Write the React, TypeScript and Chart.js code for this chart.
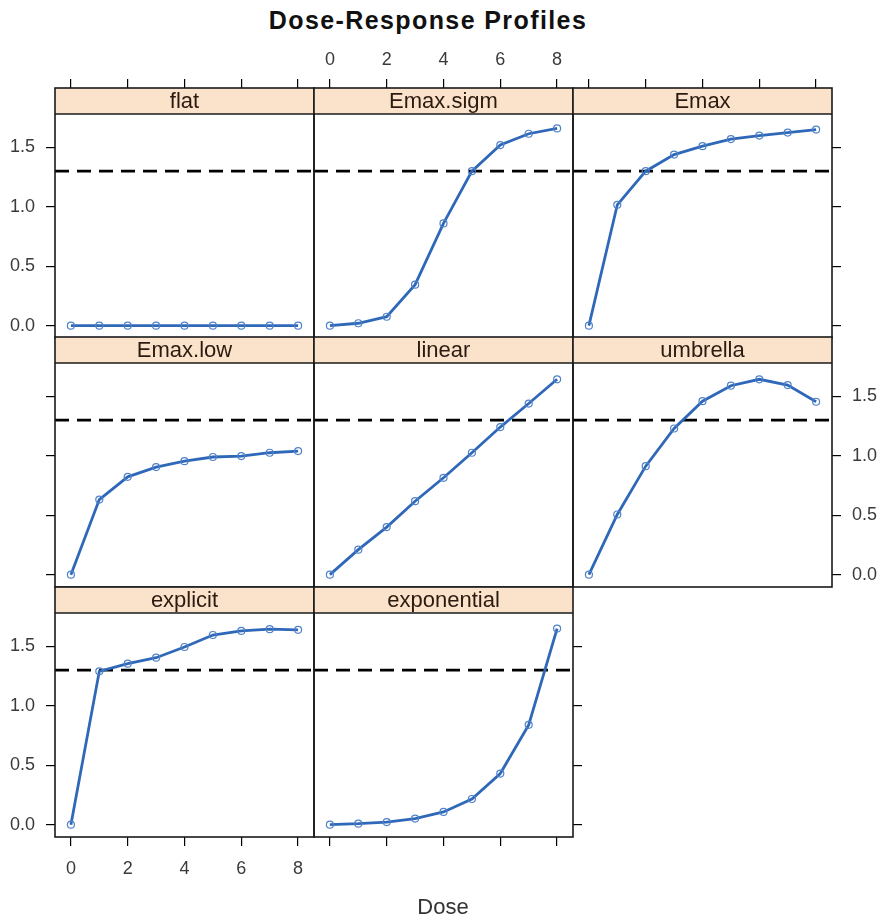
import React, { useEffect, useRef } from "react";
import { Chart, registerables } from "chart.js";

Chart.register(...registerables);

// ---------- data ----------
const DOSES = [0, 1, 2, 3, 4, 5, 6, 7, 8];
const flatVals = [0, 0, 0, 0, 0, 0, 0, 0, 0];
const emaxSigmVals = [0, 0.02, 0.075, 0.345, 0.86, 1.3, 1.52, 1.615, 1.66];
const emaxVals = [0, 1.017, 1.3, 1.44, 1.51, 1.57, 1.6, 1.625, 1.65];
const emaxLowVals = [0, 0.632, 0.823, 0.905, 0.955, 0.99, 0.998, 1.026, 1.04];
const linearVals = [0, 0.21, 0.4, 0.618, 0.815, 1.026, 1.242, 1.44, 1.644];
const umbrellaVals = [0, 0.506, 0.913, 1.23, 1.46, 1.59, 1.644, 1.595, 1.455];
const explicitVals = [0, 1.29, 1.355, 1.405, 1.495, 1.596, 1.63, 1.645, 1.64];
const exponentialVals = [0, 0.008, 0.022, 0.051, 0.107, 0.216, 0.43, 0.84, 1.65];
const X_TICKS = [0, 2, 4, 6, 8];
const Y_TICKS = [0, 0.5, 1.0, 1.5];
const REF_LEVEL = 1.3;
const TITLE = "Dose-Response Profiles";
const X_LABEL = "Dose";

// ---------- layout / style ----------
const X_MIN = -0.56;
const X_MAX = 8.56;
const Y_MIN = -0.104;
const Y_MAX = 2.0; // top part of the area is covered by the strip
const STRIP_H = 26;
const M = 70;
const W = 259;
const H = 250;
const COL_LEFT = [55, 314, 573];
const ROW_TOP = [88, 337, 587];
const TICK_LEN = 9;
const LINE_COLOR = "#2f68b8";
const POINT_COLOR = "#4f82c9";
const STRIP_FILL = "#fbe3cb";
const FRAME = "#1a1a1a";
const LABEL_COLOR = "#3a3a3a";
const FONT = "'Liberation Sans', Arial, sans-serif";

type Mode = "none" | "ticks" | "labels";
interface PanelDef {
  name: string;
  values: number[];
  row: number;
  col: number;
  left: Mode;
  right: Mode;
  top: Mode;
  bottom: Mode;
}

const PANELS: PanelDef[] = [
  { name: "flat", values: flatVals, row: 0, col: 0, left: "labels", right: "none", top: "ticks", bottom: "none" },
  { name: "Emax.sigm", values: emaxSigmVals, row: 0, col: 1, left: "none", right: "none", top: "labels", bottom: "none" },
  { name: "Emax", values: emaxVals, row: 0, col: 2, left: "none", right: "ticks", top: "ticks", bottom: "none" },
  { name: "Emax.low", values: emaxLowVals, row: 1, col: 0, left: "ticks", right: "none", top: "none", bottom: "none" },
  { name: "linear", values: linearVals, row: 1, col: 1, left: "none", right: "none", top: "none", bottom: "none" },
  { name: "umbrella", values: umbrellaVals, row: 1, col: 2, left: "none", right: "labels", top: "none", bottom: "none" },
  { name: "explicit", values: explicitVals, row: 2, col: 0, left: "labels", right: "none", top: "none", bottom: "labels" },
  { name: "exponential", values: exponentialVals, row: 2, col: 1, left: "none", right: "ticks", top: "none", bottom: "ticks" },
];

const stripPlugin = {
  id: "strip",
  afterDraw(chart: any, _args: any, opts: any) {
    const { ctx, chartArea: a } = chart;
    ctx.save();
    ctx.fillStyle = STRIP_FILL;
    ctx.fillRect(a.left, a.top, a.right - a.left, STRIP_H);
    ctx.strokeStyle = FRAME;
    ctx.lineWidth = 1.6;
    ctx.beginPath();
    ctx.moveTo(a.left, a.top + STRIP_H);
    ctx.lineTo(a.right, a.top + STRIP_H);
    ctx.stroke();
    ctx.strokeRect(a.left, a.top, a.right - a.left, a.bottom - a.top);
    ctx.fillStyle = "#2a1a10";
    ctx.font = `22px ${FONT}`;
    ctx.textAlign = "center";
    ctx.textBaseline = "middle";
    ctx.fillText(opts.label, (a.left + a.right) / 2, a.top + STRIP_H / 2 + 1);
    ctx.restore();
  },
};

function xScale(position: string, mode: Mode, pad: number) {
  return {
    type: "linear",
    position,
    min: X_MIN,
    max: X_MAX,
    afterBuildTicks: (s: any) => {
      s.ticks = X_TICKS.map((v) => ({ value: v }));
    },
    afterFit: (s: any) => {
      s.height = M;
    },
    border: { display: false },
    grid: {
      display: true,
      drawOnChartArea: false,
      drawTicks: mode !== "none",
      tickLength: TICK_LEN,
      color: "#000",
      lineWidth: 1.2,
    },
    ticks: {
      display: mode === "labels",
      padding: pad,
      autoSkip: false,
      maxRotation: 0,
      color: LABEL_COLOR,
      font: { size: 18, family: FONT },
      callback: (v: any) => String(v),
    },
  };
}

function yScale(position: string, mode: Mode) {
  return {
    type: "linear",
    position,
    min: Y_MIN,
    max: Y_MAX,
    afterBuildTicks: (s: any) => {
      s.ticks = Y_TICKS.map((v) => ({ value: v }));
    },
    afterFit: (s: any) => {
      s.width = M;
    },
    border: { display: false },
    grid: {
      display: true,
      drawOnChartArea: false,
      drawTicks: mode !== "none",
      tickLength: TICK_LEN,
      color: "#000",
      lineWidth: 1.2,
    },
    ticks: {
      display: mode === "labels",
      padding: 11,
      autoSkip: false,
      color: LABEL_COLOR,
      font: { size: 18, family: FONT },
      callback: (v: any) => Number(v).toFixed(1),
    },
  };
}

function Panel({ p }: { p: PanelDef }) {
  const ref = useRef<HTMLCanvasElement>(null);
  useEffect(() => {
    if (!ref.current) return;
    const chart = new Chart(ref.current, {
      type: "line",
      data: {
        datasets: [
          {
            data: DOSES.map((d, i) => ({ x: d, y: p.values[i] })),
            borderColor: LINE_COLOR,
            borderWidth: 2.8,
            pointRadius: 3.5,
            pointBorderColor: POINT_COLOR,
            pointBorderWidth: 1.2,
            pointBackgroundColor: "rgba(255,255,255,0)",
            tension: 0,
            order: 1,
          },
          {
            data: [
              { x: X_MIN, y: REF_LEVEL },
              { x: X_MAX, y: REF_LEVEL },
            ],
            borderColor: "#000",
            borderWidth: 2.9,
            borderDash: [14, 8],
            pointRadius: 0,
            order: 2,
          },
        ],
      } as any,
      options: {
        animation: false,
        responsive: false,
        events: [],
        layout: { padding: 0 },
        plugins: {
          legend: { display: false },
          tooltip: { enabled: false },
          strip: { label: p.name },
        } as any,
        scales: {
          x: xScale("bottom", p.bottom, 12),
          x2: xScale("top", p.top, 8),
          y: yScale("left", p.left),
          y2: yScale("right", p.right),
        } as any,
      },
      plugins: [stripPlugin as any],
    });
    return () => chart.destroy();
  }, [p]);
  return (
    <canvas
      ref={ref}
      width={W + 2 * M}
      height={H + 2 * M}
      style={{
        position: "absolute",
        left: COL_LEFT[p.col] - M,
        top: ROW_TOP[p.row] - M,
        width: W + 2 * M,
        height: H + 2 * M,
      }}
    />
  );
}

export default function App() {
  return (
    <div
      style={{
        position: "absolute",
        left: 0,
        top: 0,
        width: 882,
        height: 919,
        background: "#fff",
        overflow: "hidden",
      }}
    >
      <div
        style={{
          position: "absolute",
          left: 0,
          top: 6,
          width: 856,
          textAlign: "center",
          fontFamily: FONT,
          fontWeight: "bold",
          fontSize: 25,
          letterSpacing: 1.4,
          color: "#111",
          whiteSpace: "nowrap",
        }}
      >
        {TITLE}
      </div>
      {PANELS.map((p) => (
        <Panel key={p.name} p={p} />
      ))}
      <div
        style={{
          position: "absolute",
          left: 0,
          top: 894,
          width: 886,
          textAlign: "center",
          fontFamily: FONT,
          fontSize: 22,
          color: "#333",
        }}
      >
        {X_LABEL}
      </div>
    </div>
  );
}
